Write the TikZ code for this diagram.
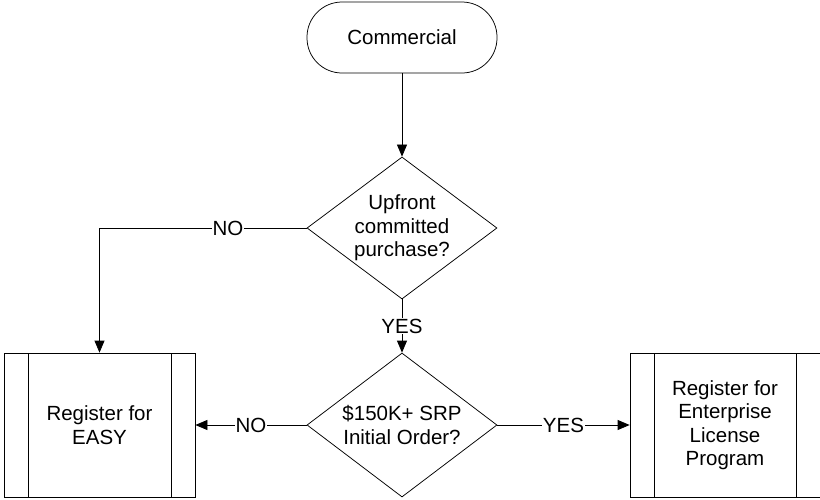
\documentclass[tikz,border=0pt]{standalone}
\usepackage{fontspec}
\setmainfont{Liberation Sans}
\usetikzlibrary{shapes.geometric,arrows.meta}
\tikzstyle{terminal}=[draw, rounded corners=35pt, minimum width=190pt, minimum height=71pt]
\tikzstyle{decision}=[draw, diamond, aspect=1.34, inner sep=0pt, minimum width=190pt, minimum height=142pt, align=center]
\tikzstyle{process}=[draw, minimum width=190pt, minimum height=144pt, align=center,
 path picture={
 \draw ([xshift=24pt]path picture bounding box.north west) -- ([xshift=24pt]path picture bounding box.south west);
 \draw ([xshift=-24pt]path picture bounding box.north east) -- ([xshift=-24pt]path picture bounding box.south east);
 }]
\tikzstyle{flow}=[-{Triangle[length=12pt,width=10pt]}]
\tikzstyle{answer}=[fill=white, inner sep=1pt]
\begin{document}
\begin{tikzpicture}[x=1pt, y=-1pt, line width=0.75pt, font=\fontsize{20.5}{23.5}\selectfont]
 \useasboundingbox (0,0) rectangle (820,499);
%
 \node[terminal] (comm) at (402,37.5) {Commercial};
 \node[decision] (upfront) at (402,228) {Upfront\\committed\\purchase?};
 \node[decision, minimum height=144pt] (srp) at (402,425) {\$150K+ SRP\\Initial Order?};
 \node[process, minimum width=191pt] (easy) at (99.5,425) {Register for\\EASY};
 \node[process] (elp) at (725,425) {Register for\\Enterprise\\License\\Program};
%
 \draw[flow] (comm) -- (upfront);
 \draw[flow] (upfront.west) -| node[answer, pos=0.19] {NO} (easy.north);
 \draw[flow] (upfront.south) -- node[answer] {YES} (srp.north);
 \draw[flow] (srp.west) -- node[answer] {NO} (easy.east);
 \draw[flow] (srp.east) -- node[answer] {YES} (elp.west);
\end{tikzpicture}
\end{document}
